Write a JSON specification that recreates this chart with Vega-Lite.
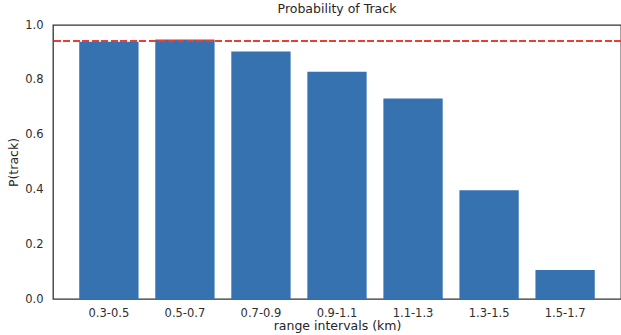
{
  "$schema": "https://vega.github.io/schema/vega-lite/v6.json",
  "autosize": {"type": "none"},
  "padding": {"left": 53, "top": 25, "right": 0, "bottom": 36},
  "width": 568,
  "height": 274,
  "title": {"text": "Probability of Track", "fontSize": 12.5, "font": "DejaVu Sans", "fontWeight": "normal", "color": "#262626", "offset": 4},
  "config": {
    "font": "DejaVu Sans",
    "view": {"stroke": "#333333", "strokeWidth": 1.3},
    "axis": {"domain": false, "ticks": false, "grid": false, "labelFont": "DejaVu Sans", "titleFont": "DejaVu Sans", "labelColor": "#2e2e2e", "titleColor": "#262626", "labelFontSize": 11.5, "titleFontSize": 12.5, "titleFontWeight": "normal"}
  },
  "data": {"values": [
    {"range": "0.3-0.5", "p": 0.939},
    {"range": "0.5-0.7", "p": 0.947},
    {"range": "0.7-0.9", "p": 0.903},
    {"range": "0.9-1.1", "p": 0.829},
    {"range": "1.1-1.3", "p": 0.732},
    {"range": "1.3-1.5", "p": 0.397},
    {"range": "1.5-1.7", "p": 0.106}
  ]},
  "layer": [
    {
      "mark": {"type": "bar", "color": "#3672b0"},
      "encoding": {
        "x": {"field": "range", "type": "nominal", "sort": null, "title": "range intervals (km)",
              "scale": {"paddingInner": 0.22, "paddingOuter": 0.345},
              "axis": {"labelAngle": 0, "labelPadding": 8, "titlePadding": 1}},
        "y": {"field": "p", "type": "quantitative", "title": "P(track)",
              "scale": {"domain": [0, 1], "nice": false, "zero": true},
              "axis": {"values": [0, 0.2, 0.4, 0.6, 0.8, 1.0], "format": ".1f", "labelPadding": 10, "titlePadding": 4}}
      }
    },
    {
      "mark": {"type": "rule", "color": "#ec3d35", "strokeWidth": 1.8, "strokeDash": [6.5, 3]},
      "encoding": {"y": {"datum": 0.942}}
    }
  ]
}
